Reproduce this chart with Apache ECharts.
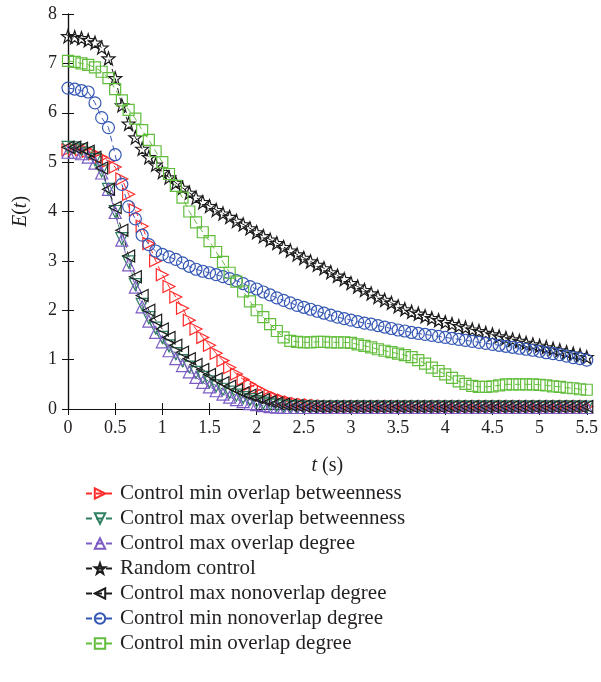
<!DOCTYPE html>
<html>
<head>
<meta charset="utf-8">
<script src="https://cdn.jsdelivr.net/npm/echarts@6/dist/echarts.min.js"></script>
<style>html,body{margin:0;padding:0;background:#fff}#c{width:601px;height:682px}</style>
</head>
<body>
<div id="c"></div>
<script>
const times = [
0,0.071,0.143,0.214,0.286,0.357,0.429,0.5,0.571,0.643,0.714,0.786,0.857,0.929,
1,1.071,1.143,1.214,1.286,1.357,1.429,1.5,1.571,1.643,1.714,1.786,1.857,1.929,
2,2.071,2.143,2.214,2.286,2.357,2.429,2.5,2.571,2.643,2.714,2.786,2.857,2.929,
3,3.071,3.143,3.214,3.286,3.357,3.429,3.5,3.571,3.643,3.714,3.786,3.857,3.929,
4,4.071,4.143,4.214,4.286,4.357,4.429,4.5,4.571,4.643,4.714,4.786,4.857,4.929,
5,5.071,5.143,5.214,5.286,5.357,5.429,5.5];

const minOverlapBetweenness = [
5.25,5.26,5.25,5.22,5.17,5.1,5.02,4.9,4.66,4.35,4.03,3.7,3.35,3.0,
2.72,2.48,2.27,2.04,1.8,1.62,1.45,1.29,1.13,0.98,0.84,0.71,0.6,0.5,
0.42,0.35,0.28,0.23,0.18,0.14,0.11,0.09,0.08,0.07,0.06,0.05,0.05,0.05,
0.05,0.05,0.05,0.05,0.05,0.05,0.05,0.05,0.05,0.05,0.05,0.05,0.05,0.05,
0.05,0.05,0.05,0.05,0.05,0.05,0.05,0.05,0.05,0.05,0.05,0.05,0.05,0.05,
0.05,0.05,0.05,0.05,0.05,0.05,0.05,0.05];

const maxOverlapBetweenness = [
5.3,5.29,5.25,5.18,5.05,4.82,4.45,4.0,3.45,2.98,2.52,2.12,1.85,1.64,
1.45,1.28,1.12,0.98,0.85,0.74,0.64,0.55,0.47,0.4,0.34,0.28,0.23,0.19,
0.15,0.12,0.1,0.08,0.06,0.05,0.04,0.04,0.04,0.04,0.04,0.04,0.04,0.04,
0.04,0.04,0.04,0.04,0.04,0.04,0.04,0.04,0.04,0.04,0.04,0.04,0.04,0.04,
0.04,0.04,0.04,0.04,0.04,0.04,0.04,0.04,0.04,0.04,0.04,0.04,0.04,0.04,
0.04,0.04,0.04,0.04,0.04,0.04,0.04,0.04];

const maxOverlapDegree = [
5.2,5.2,5.17,5.1,4.98,4.78,4.45,3.98,3.42,2.92,2.47,2.07,1.78,1.55,
1.36,1.18,1.02,0.88,0.75,0.64,0.54,0.45,0.37,0.3,0.24,0.19,0.15,0.11,
0.09,0.07,0.05,0.04,0.03,0.03,0.03,0.03,0.03,0.03,0.03,0.03,0.03,0.03,
0.03,0.03,0.03,0.03,0.03,0.03,0.03,0.03,0.03,0.03,0.03,0.03,0.03,0.03,
0.03,0.03,0.03,0.03,0.03,0.03,0.03,0.03,0.03,0.03,0.03,0.03,0.03,0.03,
0.03,0.03,0.03,0.03,0.03,0.03,0.03,0.03];

const randomControl = [
7.55,7.53,7.51,7.47,7.42,7.32,7.1,6.7,6.15,5.78,5.5,5.27,5.1,4.95,
4.8,4.69,4.58,4.48,4.38,4.28,4.19,4.11,4.03,3.96,3.89,3.81,3.74,3.66,
3.58,3.5,3.43,3.36,3.28,3.21,3.13,3.06,2.99,2.92,2.85,2.77,2.7,2.63,
2.55,2.48,2.41,2.34,2.27,2.21,2.15,2.08,2.02,1.97,1.93,1.88,1.84,1.8,
1.76,1.72,1.68,1.65,1.61,1.58,1.54,1.51,1.47,1.44,1.41,1.38,1.34,1.31,
1.28,1.25,1.22,1.19,1.15,1.12,1.09,1.05];

const maxNonoverlapDegree = [
5.3,5.3,5.28,5.22,5.1,4.88,4.45,4.08,3.62,3.1,2.68,2.3,2.0,1.8,
1.62,1.45,1.29,1.15,1.02,0.9,0.8,0.7,0.61,0.53,0.46,0.39,0.33,0.28,
0.23,0.19,0.15,0.12,0.1,0.08,0.07,0.06,0.05,0.05,0.05,0.05,0.05,0.05,
0.05,0.05,0.05,0.05,0.05,0.05,0.05,0.05,0.05,0.05,0.05,0.05,0.05,0.05,
0.05,0.05,0.05,0.05,0.05,0.05,0.05,0.05,0.05,0.05,0.05,0.05,0.05,0.05,
0.05,0.05,0.05,0.05,0.05,0.05,0.05,0.05];

const minNonoverlapDegree = [
6.5,6.48,6.45,6.42,6.2,5.9,5.7,5.15,4.55,4.1,3.85,3.52,3.33,3.2,
3.13,3.08,3.03,2.96,2.89,2.83,2.79,2.76,2.72,2.68,2.64,2.6,2.54,2.48,
2.43,2.37,2.31,2.25,2.2,2.15,2.1,2.06,2.02,1.98,1.94,1.9,1.86,1.83,
1.8,1.77,1.74,1.72,1.69,1.66,1.63,1.6,1.58,1.55,1.53,1.51,1.49,1.47,
1.45,1.43,1.41,1.39,1.37,1.35,1.33,1.31,1.29,1.27,1.25,1.23,1.21,1.19,
1.17,1.14,1.12,1.1,1.07,1.04,1.02,0.99];

const minOverlapDegree = [
7.05,7.03,7.0,6.97,6.92,6.83,6.7,6.48,6.25,6.06,5.88,5.65,5.45,5.22,
5.0,4.76,4.52,4.28,4.0,3.78,3.58,3.4,3.18,2.98,2.76,2.58,2.38,2.18,
2.0,1.86,1.72,1.58,1.45,1.38,1.36,1.35,1.35,1.36,1.36,1.35,1.35,1.35,
1.34,1.31,1.28,1.25,1.21,1.18,1.15,1.12,1.09,1.05,0.99,0.92,0.84,0.77,
0.7,0.63,0.56,0.51,0.47,0.45,0.45,0.46,0.48,0.5,0.5,0.5,0.5,0.5,
0.49,0.48,0.46,0.45,0.43,0.42,0.4,0.39];

const xTicks = { min: 0, max: 5.5, interval: 0.5 };
const yTicks = { min: 0, max: 8, interval: 1 };

const STAR = 'path://M0,-10L2.35,-3.24L9.51,-3.09L3.8,1.24L5.88,8.09L0,4L-5.88,8.09L-3.8,1.24L-9.51,-3.09L-2.35,-3.24Z';

const seriesDefs = [
  { name: 'Control min overlap betweenness', ys: minOverlapBetweenness, color: '#ff2b2b', symbol: 'triangle', rot: -90, size: 12 },
  { name: 'Control max overlap betweenness', ys: maxOverlapBetweenness, color: '#2f8060', symbol: 'triangle', rot: 180, size: 12 },
  { name: 'Control max overlap degree', ys: maxOverlapDegree, color: '#7b5cc4', symbol: 'triangle', rot: 0, size: 12 },
  { name: 'Random control', ys: randomControl, color: '#1c1c1c', symbol: STAR, rot: 0, size: 13 },
  { name: 'Control max nonoverlap degree', ys: maxNonoverlapDegree, color: '#1c1c1c', symbol: 'triangle', rot: 90, size: 12 },
  { name: 'Control min nonoverlap degree', ys: minNonoverlapDegree, color: '#3558b5', symbol: 'circle', rot: 0, size: 12 },
  { name: 'Control min overlap degree', ys: minOverlapDegree, color: '#62bd3c', symbol: 'rect', rot: 0, size: 11 }
];

const FONT = '"Liberation Serif", "DejaVu Serif", serif';
const TXT = '#231f20';

const series = seriesDefs.map(d => ({
  name: d.name,
  type: 'line',
  data: times.map((t, i) => [t, d.ys[i]]),
  symbol: d.symbol,
  symbolSize: d.size,
  symbolRotate: d.rot,
  showAllSymbol: true,
  clip: false,
  animation: false,
  itemStyle: { color: 'rgba(255,255,255,0)', borderColor: d.color, borderWidth: 1.2 },
  lineStyle: { color: d.color, width: 1, type: [6, 4] },
  emphasis: { disabled: true }
}));

const axisLineStyle = { lineStyle: { color: '#111', width: 1.2 } };

const chart = echarts.init(document.getElementById('c'), null, { renderer: 'canvas' });
chart.setOption({
  backgroundColor: '#fff',
  animation: false,
  grid: { left: 68, right: 12, top: 14, bottom: 273 },
  legend: {
    orient: 'vertical',
    left: 80,
    top: 478,
    height: 200,
    itemWidth: 28,
    itemHeight: 13,
    itemGap: 4,
    textStyle: { fontFamily: FONT, fontSize: 21, lineHeight: 21, color: TXT, padding: [0, 0, 0, 1] },
    data: seriesDefs.map(d => d.name)
  },
  xAxis: [
    {
      type: 'value', min: xTicks.min, max: xTicks.max, interval: xTicks.interval,
      position: 'bottom',
      axisLine: axisLineStyle,
      axisTick: { inside: true, length: 6, lineStyle: { color: '#111' } },
      splitLine: { show: false },
      axisLabel: { fontFamily: FONT, fontSize: 18, color: TXT, margin: 10 },
      name: '{i|t} (s)', nameLocation: 'middle', nameGap: 47,
      nameTextStyle: { fontFamily: FONT, fontSize: 20, color: TXT, rich: { i: { fontFamily: FONT, fontSize: 20, fontStyle: 'italic', color: TXT } } }
    },
    {
      type: 'value', min: xTicks.min, max: xTicks.max, interval: xTicks.interval,
      position: 'top',
      axisLine: axisLineStyle,
      axisTick: { inside: true, length: 6, lineStyle: { color: '#111' } },
      splitLine: { show: false },
      axisLabel: { show: false }
    }
  ],
  yAxis: [
    {
      type: 'value', min: yTicks.min, max: yTicks.max, interval: yTicks.interval,
      position: 'left',
      axisLine: axisLineStyle,
      axisTick: { inside: true, length: 6, lineStyle: { color: '#111' } },
      splitLine: { show: false },
      axisLabel: { fontFamily: FONT, fontSize: 18, color: TXT, margin: 11 },
      name: '{i|E}({i|t})', nameLocation: 'middle', nameGap: 37,
      nameTextStyle: { fontFamily: FONT, fontSize: 20, color: TXT, rich: { i: { fontFamily: FONT, fontSize: 20, fontStyle: 'italic', color: TXT } } }
    },
    {
      type: 'value', min: yTicks.min, max: yTicks.max, interval: yTicks.interval,
      position: 'right',
      axisLine: axisLineStyle,
      axisTick: { inside: true, length: 6, lineStyle: { color: '#111' } },
      splitLine: { show: false },
      axisLabel: { show: false }
    }
  ],
  series: series
});
</script>
</body>
</html>
